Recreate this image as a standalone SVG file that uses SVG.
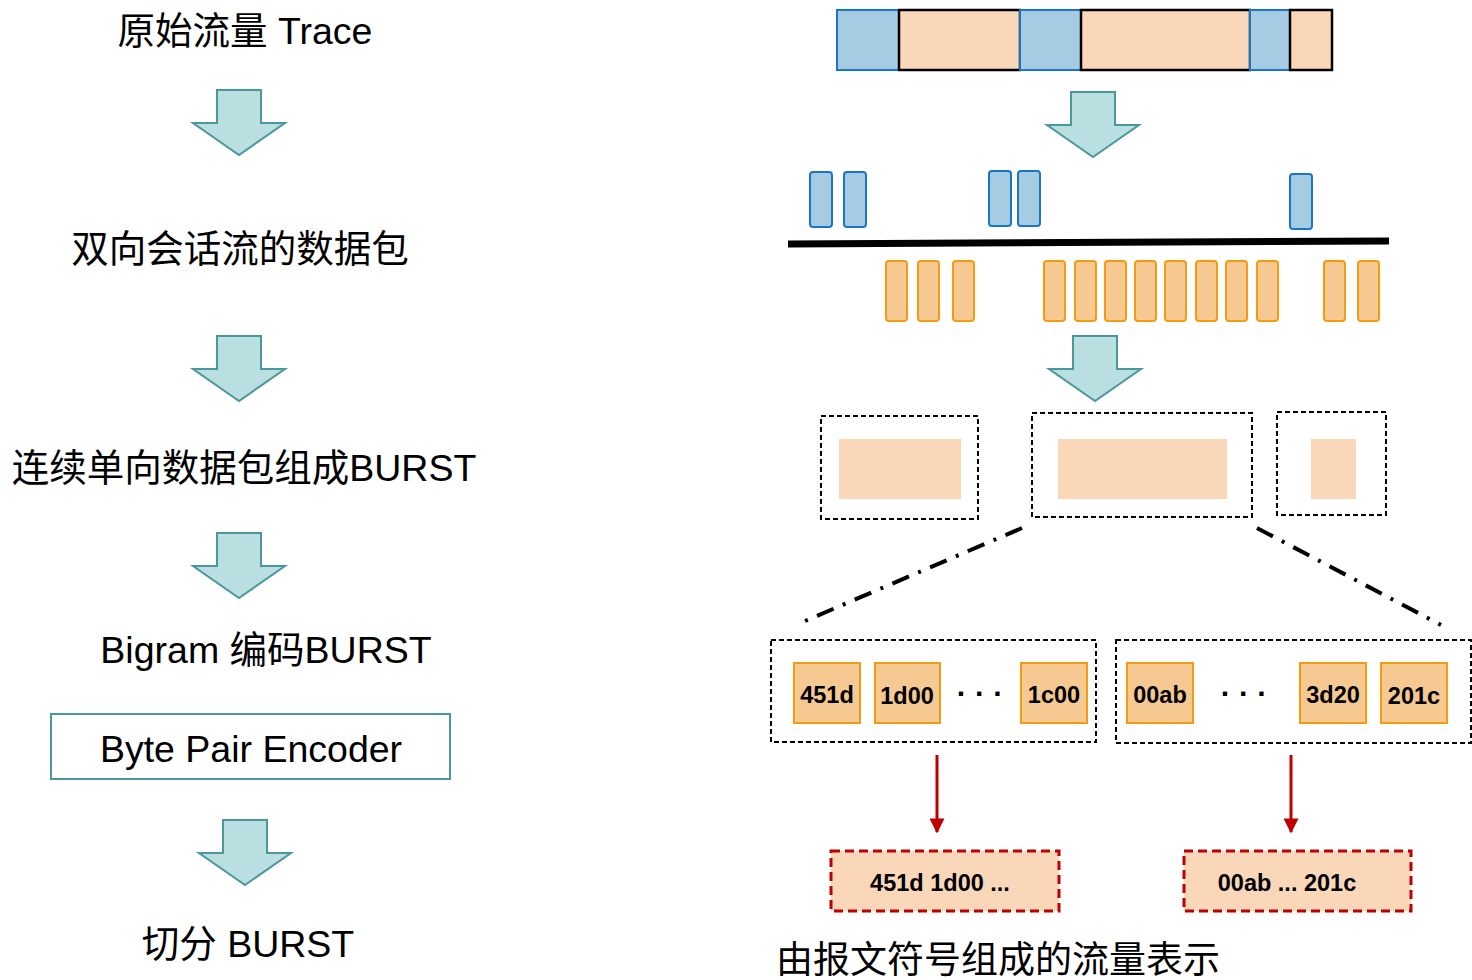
<svg xmlns="http://www.w3.org/2000/svg" width="1472" height="980" viewBox="0 0 1472 980">
  <style>
    .lbl { font-family: "Liberation Sans", "Noto Sans CJK SC", sans-serif; font-size: 37.5px; fill: #000; text-anchor: middle; }
    .hex { font-family: "Liberation Sans", "Noto Sans CJK SC", sans-serif; font-size: 23.5px; font-weight: bold; fill: #000; text-anchor: middle; }
    .dots { font-family: "Liberation Sans", sans-serif; font-size: 30px; font-weight: bold; fill: #000; text-anchor: middle; }
    .step { fill: #b9dfe1; stroke: #4a979c; stroke-width: 2; }
    .blueSeg { fill: #a6cce4; stroke: #1a76c4; stroke-width: 2; }
    .peachSeg { fill: #fad7b9; stroke: #000; stroke-width: 2.5; }
    .up { fill: #a6cce4; stroke: #1a76c4; stroke-width: 2; }
    .down { fill: #f6c993; stroke: #f39c12; stroke-width: 2; }
    .grp { fill: #fff; stroke: #000; stroke-width: 2; stroke-dasharray: 5 3; }
    .fill { fill: #fad7b9; }
    .tok { fill: #f6c993; stroke: #f39c12; stroke-width: 2; }
    .out { fill: #fad7b9; stroke: #c00000; stroke-width: 3; stroke-dasharray: 9 5; }
    .zoomLine { stroke: #000; stroke-width: 4; stroke-dasharray: 18 10 3 10; fill: none; }
    .red { stroke: #c00000; stroke-width: 3; fill: none; }
  </style>
  <defs>
    <marker id="redHead" viewBox="0 0 10 10" refX="9" refY="5" markerWidth="6" markerHeight="5" orient="auto" markerUnits="strokeWidth">
      <path d="M0,0 L10,5 L0,10 z" fill="#c00000"/>
    </marker>
    <!-- block arrow, origin at top-centre of the shaft -->
    <path id="blockArrow" d="M-22,0 H22 V33 H46 L0,65 L-46,33 H-22 Z"/>
  </defs>

  <!-- left pipeline -->
  <g id="trace"><text class="lbl" x="245" y="44">原始流量 Trace</text></g>
  <g id="step1"><use href="#blockArrow" class="step" x="239" y="90"/></g>
  <g id="packets"><text class="lbl" x="240" y="262">双向会话流的数据包</text></g>
  <g id="step2"><use href="#blockArrow" class="step" x="239" y="336"/></g>
  <g id="burst"><text class="lbl" x="244" y="481">连续单向数据包组成BURST</text></g>
  <g id="step3"><use href="#blockArrow" class="step" x="239" y="533"/></g>
  <g id="bigram"><text class="lbl" x="266" y="663">Bigram 编码BURST</text></g>
  <g id="bpe">
    <rect x="51" y="714" width="399" height="65" fill="#fff" stroke="#4a979c" stroke-width="2"/>
    <text class="lbl" x="251" y="762">Byte Pair Encoder</text>
  </g>
  <g id="step4"><use href="#blockArrow" class="step" x="245" y="820"/></g>
  <g id="split"><text class="lbl" x="248" y="957">切分 BURST</text></g>

  <!-- raw trace bar -->
  <g id="rawBar">
    <rect class="blueSeg" x="837" y="10" width="62" height="60"/>
    <rect class="peachSeg" x="899" y="10" width="121" height="60"/>
    <rect class="blueSeg" x="1020" y="10" width="61" height="60"/>
    <rect class="peachSeg" x="1081" y="10" width="169" height="60"/>
    <rect class="blueSeg" x="1250" y="10" width="40" height="60"/>
    <rect class="peachSeg" x="1290" y="10" width="42" height="60"/>
  </g>
  <g id="rstep1"><use href="#blockArrow" class="step" x="1093" y="92"/></g>

  <!-- packets by direction -->
  <g id="upstream">
    <rect class="up" x="810" y="172" width="22" height="55" rx="3"/>
    <rect class="up" x="844" y="172" width="22" height="55" rx="3"/>
    <rect class="up" x="989" y="171" width="22" height="55" rx="3"/>
    <rect class="up" x="1018" y="171" width="22" height="55" rx="3"/>
    <rect class="up" x="1290" y="174" width="22" height="55" rx="3"/>
  </g>
  <g id="timeline"><line x1="788" y1="244" x2="1389" y2="241" stroke="#000" stroke-width="7"/></g>
  <g id="downstream">
    <rect class="down" x="886" y="261" width="21" height="60" rx="3"/>
    <rect class="down" x="918" y="261" width="21" height="60" rx="3"/>
    <rect class="down" x="953" y="261" width="21" height="60" rx="3"/>
    <rect class="down" x="1044" y="261" width="21" height="60" rx="3"/>
    <rect class="down" x="1075" y="261" width="21" height="60" rx="3"/>
    <rect class="down" x="1105" y="261" width="21" height="60" rx="3"/>
    <rect class="down" x="1135" y="261" width="21" height="60" rx="3"/>
    <rect class="down" x="1165" y="261" width="21" height="60" rx="3"/>
    <rect class="down" x="1196" y="261" width="21" height="60" rx="3"/>
    <rect class="down" x="1226" y="261" width="21" height="60" rx="3"/>
    <rect class="down" x="1257" y="261" width="21" height="60" rx="3"/>
    <rect class="down" x="1324" y="261" width="21" height="60" rx="3"/>
    <rect class="down" x="1358" y="261" width="21" height="60" rx="3"/>
  </g>
  <g id="rstep2"><use href="#blockArrow" class="step" x="1095" y="336"/></g>

  <!-- bursts -->
  <g id="burst1">
    <rect class="grp" x="821" y="416" width="157" height="103"/>
    <rect class="fill" x="839" y="439" width="122" height="60"/>
  </g>
  <g id="burst2">
    <rect class="grp" x="1032" y="413" width="220" height="104"/>
    <rect class="fill" x="1058" y="439" width="169" height="60"/>
  </g>
  <g id="burst3">
    <rect class="grp" x="1277" y="412" width="109" height="103"/>
    <rect class="fill" x="1311" y="439" width="45" height="60"/>
  </g>

  <!-- token sequences -->
  <g id="tokensA">
    <rect class="grp" x="771" y="640" width="325" height="102"/>
    <rect class="tok" x="794" y="663" width="66" height="60"/>
    <text class="hex" x="827" y="703">451d</text>
    <rect class="tok" x="875" y="663" width="65" height="60"/>
    <text class="hex" x="907" y="704">1d00</text>
    <text class="dots" x="980" y="704">· · ·</text>
    <rect class="tok" x="1021" y="663" width="66" height="60"/>
    <text class="hex" x="1054" y="703">1c00</text>
  </g>
  <g id="tokensB">
    <rect class="grp" x="1116" y="640" width="355" height="103"/>
    <rect class="tok" x="1127" y="663" width="66" height="60"/>
    <text class="hex" x="1160" y="703">00ab</text>
    <text class="dots" x="1244" y="704">· · ·</text>
    <rect class="tok" x="1300" y="663" width="66" height="60"/>
    <text class="hex" x="1333" y="703">3d20</text>
    <rect class="tok" x="1381" y="663" width="66" height="60"/>
    <text class="hex" x="1414" y="704">201c</text>
  </g>

  <!-- final representations -->
  <g id="reprA">
    <rect class="out" x="831" y="851" width="228" height="60"/>
    <text class="hex" x="940" y="891">451d 1d00 ...</text>
  </g>
  <g id="reprB">
    <rect class="out" x="1184" y="851" width="227" height="60"/>
    <text class="hex" x="1287" y="891">00ab ... 201c</text>
  </g>
  <g id="caption"><text class="lbl" x="998" y="973" style="font-size:37px">由报文符号组成的流量表示</text></g>

  <!-- connectors -->
  <g id="connectors">
    <line class="zoomLine" x1="1022" y1="528" x2="805" y2="621"/>
    <line class="zoomLine" x1="1257" y1="528" x2="1441" y2="625"/>
    <line class="red" x1="937" y1="755" x2="937" y2="832" marker-end="url(#redHead)"/>
    <line class="red" x1="1291" y1="755" x2="1291" y2="832" marker-end="url(#redHead)"/>
  </g>
</svg>
